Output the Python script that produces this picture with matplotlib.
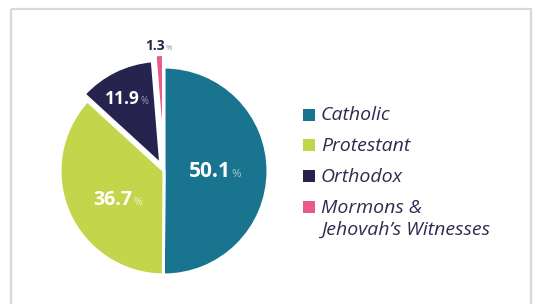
import matplotlib.pyplot as plt
from matplotlib.patches import Rectangle

# data
labels = ['Catholic', 'Protestant', 'Orthodox', 'Mormons &\nJehovah\u2019s Witnesses']
shares = [50.1, 36.7, 11.9, 1.3]
colors = ['#19748f', '#c3d54b', '#27234f', '#e9598a']
explode = [0.0, 0.0, 0.07, 0.12]

# label layout (pie units: radius = 1), number anchored at its right end
label_pos = [(0.645, -0.058), (-0.30, -0.327), (-0.23, 0.644), (0.01, 1.163)]
num_size = [15, 14, 12.5, 10]
num_color = ['white', 'white', 'white', '#27234f']
pct_color = ['#a9c9d3', '#eef3cf', '#9b99b3', '#8a89a0']

W, H = 537, 304
cx, cy, R = 164, 171, 104  # pie centre / radius in pixels

fig = plt.figure(figsize=(W / 100, H / 100), dpi=100)
fig.patch.set_facecolor('white')

# overlay in pixel coordinates for frame + legend
over = fig.add_axes([0, 0, 1, 1])
over.set_xlim(0, W)
over.set_ylim(H, 0)
over.axis('off')
over.add_patch(Rectangle((10.5, 8.5), 520, 400, fill=False,
                         edgecolor='#d8d8d8', linewidth=1.6))

ax = fig.add_axes([0, 0, 1, 1])
ax.patch.set_alpha(0)
wedges, _ = ax.pie(shares, colors=colors, explode=explode, startangle=90,
                   counterclock=False, radius=1,
                   wedgeprops=dict(edgecolor='white', linewidth=2.2))
ax.set_aspect('auto')
ax.set_xlim(-cx / R, (W - cx) / R)
ax.set_ylim(-(H - cy) / R, cy / R)
ax.axis('off')

for i, v in enumerate(shares):
    x, y = label_pos[i]
    ax.text(x, y, f'{v:.1f}', ha='right', va='baseline', fontsize=num_size[i],
            fontweight='bold', color=num_color[i], family='Open Sans')
    ax.text(x + 0.004, y, '%', ha='left', va='baseline', fontsize=num_size[i] * 0.55,
            color=pct_color[i], family='Open Sans')

# legend
base0, pitch, sq, lead = 120.5, 30.7, 12, 22.5
for i, lab in enumerate(labels):
    yb = base0 + i * pitch
    over.add_patch(Rectangle((303, yb - sq), sq, sq, facecolor=colors[i],
                             edgecolor='none'))
    for j, line in enumerate(lab.split('\n')):
        over.text(321, yb + j * lead, line, ha='left', va='baseline', fontsize=14,
                  style='italic', color='#2e2b50', family='Open Sans')

fig.savefig('out.png', dpi=100)
